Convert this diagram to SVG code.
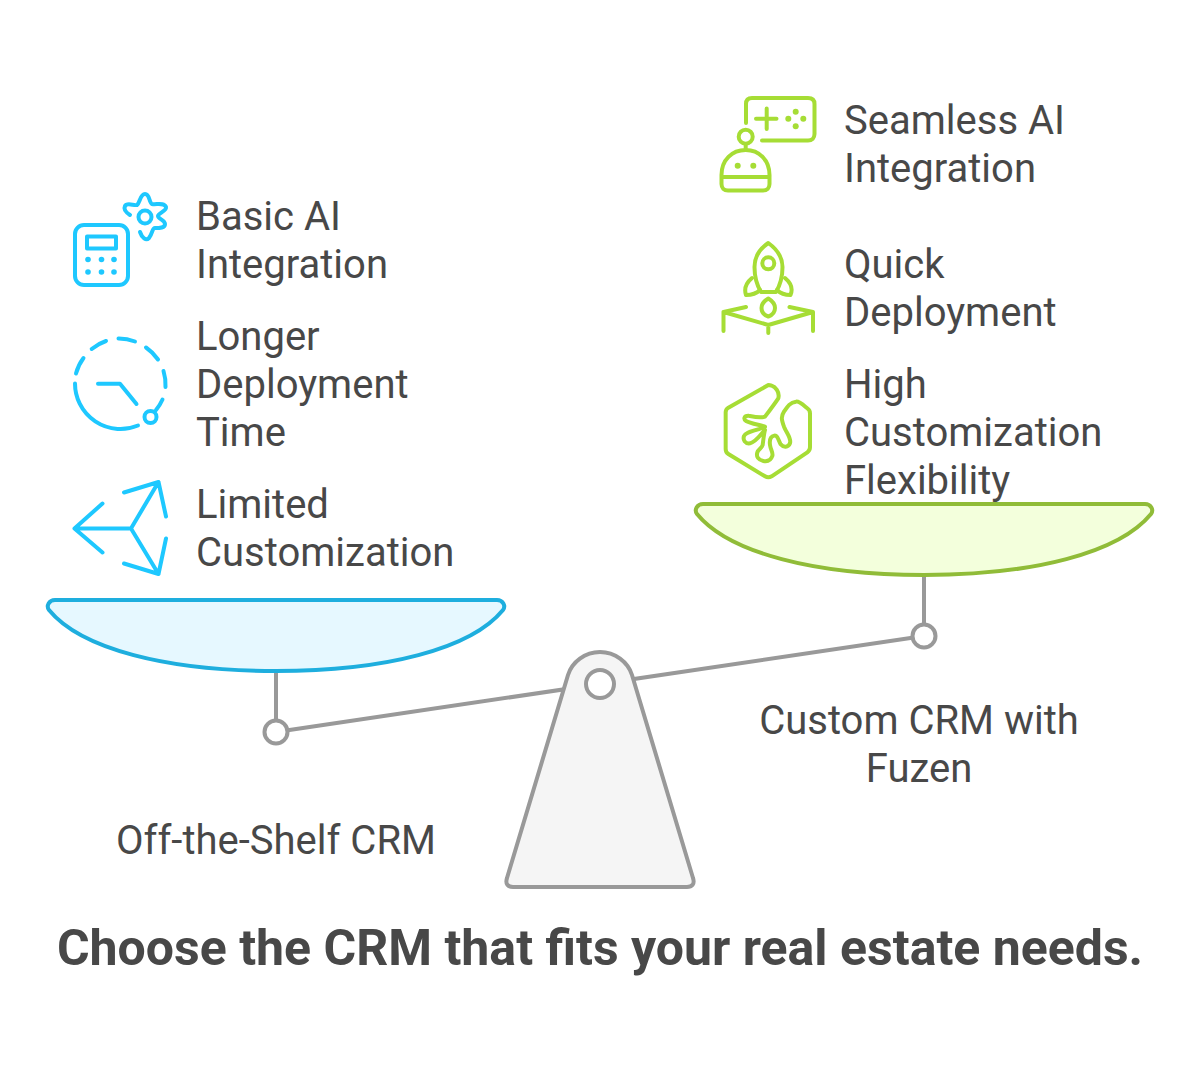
<svg xmlns="http://www.w3.org/2000/svg" width="1200" height="1080" viewBox="0 0 1200 1080">
<style>
text{font-family:Roboto,"Liberation Sans",sans-serif;fill:#484848;font-size:40px}
.t{font-weight:700;font-size:50px;text-anchor:middle}
.m{text-anchor:middle}
.b,.g{fill:none;stroke-width:4;stroke-linecap:round;stroke-linejoin:round}
.b{stroke:#1EC8FF}
.g{stroke:#A6DD35}
.bf{fill:#1EC8FF}
.gf{fill:#A6DD35}
.s{fill:none;stroke:#999;stroke-width:4}
.c{fill:#fff;stroke:#999;stroke-width:4}
</style>
<rect width="1200" height="1080" fill="#fff"/>
<g id="connectors">
<path class="s" d="M276 732L924 636M276 671V720M924 575V624"/>
</g>
<g id="left-pan"><path d="M55 600H497C503 600 506 606 503 610C471 649 385 671 276 671C167 671 81 649 49 610C46 606 49 600 55 600Z" fill="#E6F8FF" stroke="#1EAEDE" stroke-width="4"/></g>
<g id="right-pan"><path d="M703 504H1145C1151 504 1154 510 1151 514C1119 553 1033 575 924 575C815 575 729 553 697 514C694 510 697 504 703 504Z" fill="#F3FFDC" stroke="#90BC38" stroke-width="4"/></g>
<g id="left-joint"><circle class="c" cx="276" cy="732" r="11.5"/></g>
<g id="right-joint"><circle class="c" cx="924" cy="636" r="11.5"/></g>
<g id="fulcrum">
<path d="M568 675C572 662 585 652 600 652C615 652 628 662 632 675L693 878C695 884 692 887 687 887H513C508 887 505 884 507 878Z" fill="#F5F5F5" stroke="#999" stroke-width="4" stroke-linejoin="round"/>
<circle class="c" cx="600" cy="684" r="14"/>
</g>
<g id="basic-ai">
<rect class="b" x="75" y="225" width="53" height="60" rx="9"/>
<rect class="b" x="87" y="236.500" width="29" height="12"/>
<g class="bf"><circle cx="88" cy="259.500" r="2.800"/><circle cx="101.500" cy="259.500" r="2.800"/><circle cx="114" cy="259.500" r="2.800"/><circle cx="88" cy="272" r="2.800"/><circle cx="101.500" cy="272" r="2.800"/><circle cx="114" cy="272" r="2.800"/></g>
<circle class="b" cx="145" cy="217" r="6.500"/>
<path class="b" d="M140 232C142 238 146 241 149 238C153 233 152 228 155 228C160 228 165 228 165 224C165 220 158 219 158 216C158 213 167 211 166 207C164 202 156 205 152 204C149 203 150 194 145 194C140 194 140 203 137 205C134 206 127 202 125 206C123 210 127 213 130 215"/>
<text x="196" y="230">Basic AI</text><text x="196" y="278">Integration</text>
</g>
<g id="longer-deployment">
<path class="b" d="M75 383.500A45.500 45.500 0 0 0 138 425.500M76 373.500A45.500 45.500 0 0 1 83.500 358M91.700 349A45.500 45.500 0 0 1 106 341M118.500 338.500A45.500 45.500 0 0 1 135 341.500M146 347.500A45.500 45.500 0 0 1 158 359.500M163.500 371A45.500 45.500 0 0 1 165.500 387M162.500 399.500A45.500 45.500 0 0 1 156 410"/>
<path class="b" d="M98 383.700H120L136.500 404"/>
<circle class="b" cx="150.500" cy="417" r="6"/>
<text x="196" y="350">Longer</text><text x="196" y="398">Deployment</text><text x="196" y="446">Time</text>
</g>
<g id="limited-customization">
<path class="b" d="M131 528.500H74.500M102.500 503.500L74.500 528.500L102.500 552.500M131 528.500L158.500 482M124 492.500L158.500 482L166 516.500M131 528.500L158.500 574M124 563.500L158.500 574L166 538.500"/>
<text x="196" y="518">Limited</text><text x="196" y="566">Customization</text>
</g>
<g id="seamless-ai">
<path class="g" d="M746 123V104C746 100 748 98 752 98H808C812 98 814.500 100 814.500 104V134C814.500 138 812 140.500 808 140.500H762"/>
<path class="g" d="M766.700 108.500V129M756 118.700H776.500"/>
<g class="gf"><circle cx="795.700" cy="111.700" r="3"/><circle cx="788.300" cy="118.700" r="3"/><circle cx="803.300" cy="118.700" r="3"/><circle cx="795.700" cy="126.300" r="3"/></g>
<circle class="g" cx="745.700" cy="136.700" r="7"/>
<path class="g" d="M745.700 144V150M721.500 175C721.500 160 732 150 745.700 150C759 150 769.500 160 769.500 175V184C769.500 188 767 190.500 763 190.500H728C724 190.500 721.500 188 721.500 184ZM721.500 177H769.500"/>
<g class="gf"><circle cx="737.700" cy="165.700" r="3"/><circle cx="753.300" cy="165.700" r="3"/></g>
<text x="844" y="134">Seamless AI</text><text x="844" y="182">Integration</text>
</g>
<g id="quick-deployment">
<path class="g" d="M768.300 243C758 250 754.500 258 754.500 267C754.500 278 758 287 761 292H776C779 287 782.500 278 782.500 267C782.500 258 778 250 768.300 243Z"/>
<circle class="g" cx="768.300" cy="263.300" r="6"/>
<path class="g" d="M752 278C746 283 744 289 746 295C752 295 757 293 760 290M785 278C791 283 793 289 790.500 295C785 295 780 293 777 290"/>
<path class="g" d="M768.300 298.500C764 301 761.500 304 761.500 308C761.500 312 764 315 768.300 316.500C772.500 315 775 312 775 308C775 304 772.500 301 768.300 298.500Z"/>
<path class="g" d="M746 307L723.500 312L768.300 325L813 312L789.500 307M723.500 312V331M768.300 325V333M813 312V331"/>
<text x="844" y="278">Quick</text><text x="844" y="326">Deployment</text>
</g>
<g id="high-customization">
<path class="g" transform="translate(710 375) scale(.3333)" stroke-width="12" style="stroke-width:12" d="M175 30L55 98Q47 103 47 112V222Q47 232 55 237L165 304Q175 310 185 304L292 232Q300 226 300 217V115Q300 105 292 100C280 90 268 78 258 80C240 82 232 95 222 110C212 125 215 135 222 155C230 175 245 190 240 205C235 218 220 218 212 208C205 195 203 180 193 182C182 184 178 195 180 210C182 225 190 232 187 243C182 258 170 260 160 258C145 255 138 245 142 232C145 222 155 220 158 210C160 195 162 175 165 165C150 180 140 200 120 205C105 207 98 195 102 183C108 170 130 170 165 155C150 150 120 145 108 138C100 132 102 122 115 122C130 125 150 130 165 125C180 105 195 85 205 70C210 50 195 35 185 32Q180 30 175 30Z"/>
<text x="844" y="398">High</text><text x="844" y="446">Customization</text><text x="844" y="494">Flexibility</text>
</g>
<g id="labels">
<text class="m" x="919" y="734">Custom CRM with</text><text class="m" x="919" y="782">Fuzen</text>
<text class="m" x="276" y="854">Off-the-Shelf CRM</text>
<text class="t" x="600" y="965">Choose the CRM that fits your real estate needs.</text>
</g>
</svg>
